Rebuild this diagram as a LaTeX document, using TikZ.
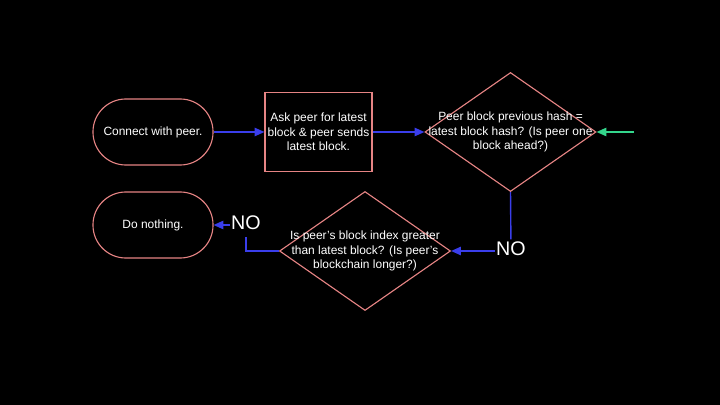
\documentclass[tikz,border=0pt]{standalone}
\usepackage{fontspec}
\setmainfont{Liberation Sans}
\usetikzlibrary{arrows.meta,shapes.geometric}
\definecolor{edgepink}{RGB}{230,132,132}
\definecolor{flowblue}{RGB}{58,62,235}
\definecolor{flowgreen}{RGB}{52,214,140}

\begin{document}
\begin{tikzpicture}[x=0.025cm,y=-0.025cm,
  txt/.style={text=white,font=\fontsize{8.5}{10.3}\selectfont,align=center},
  term/.style={txt,draw=edgepink,line width=0.8pt,rounded corners=0.82cm,minimum width=3cm,minimum height=1.65cm},
  proc/.style={txt,draw=edgepink,line width=0.8pt,minimum width=2.675cm,minimum height=1.975cm,inner sep=0pt},
  decision/.style={draw=edgepink,line width=0.8pt,diamond,minimum width=4.275cm,minimum height=2.975cm,inner sep=0pt},
  answer/.style={text=white,font=\fontsize{14}{16}\selectfont,inner sep=1pt,text height=10pt,text depth=4.2pt},
  link/.style={flowblue,line width=1pt},
  flow/.style={link,-{Triangle[length=7pt,width=6pt]}}]
			%%%%% START %%%%%
			\fill[black] (0,0) rectangle (720,405);
			
			\node[term] (connect) at (153,132) {Connect with peer.};
			\node[proc] (ask) at (318.5,132) {Ask peer for latest\\block \& peer sends\\latest block.};
			\node[decision,label={[txt]center:{Peer block previous hash =\\latest block hash? (Is peer one\\block ahead?)}}] (ahead) at (510.5,132) {};
			
			\node[decision,label={[txt]center:{Is peer's block index greater\\than latest block? (Is peer's\\blockchain longer?)}}] (longer) at (365,251) {};
			\node[term] (nothing) at (153,225) {Do nothing.};
			
			\node[answer] (noahead) at (511,251) {NO};
			\node[answer] (nolonger) at (246,225) {NO};
			\coordinate (peerin) at (634,132);
			
			\draw[flow] (connect) -- (ask);
			\draw[flow] (ask) -- (ahead);
			\draw[flow,flowgreen] (peerin) -- (ahead.east);
			
			\draw[link] (ahead.south) -- (noahead);
			\draw[flow] (noahead) -- (longer.east);
			\draw[link] (longer.west) -| (nolonger);
			\draw[flow] (nolonger) -- (nothing);
			%%%%% END %%%%%
\end{tikzpicture}
\end{document}
